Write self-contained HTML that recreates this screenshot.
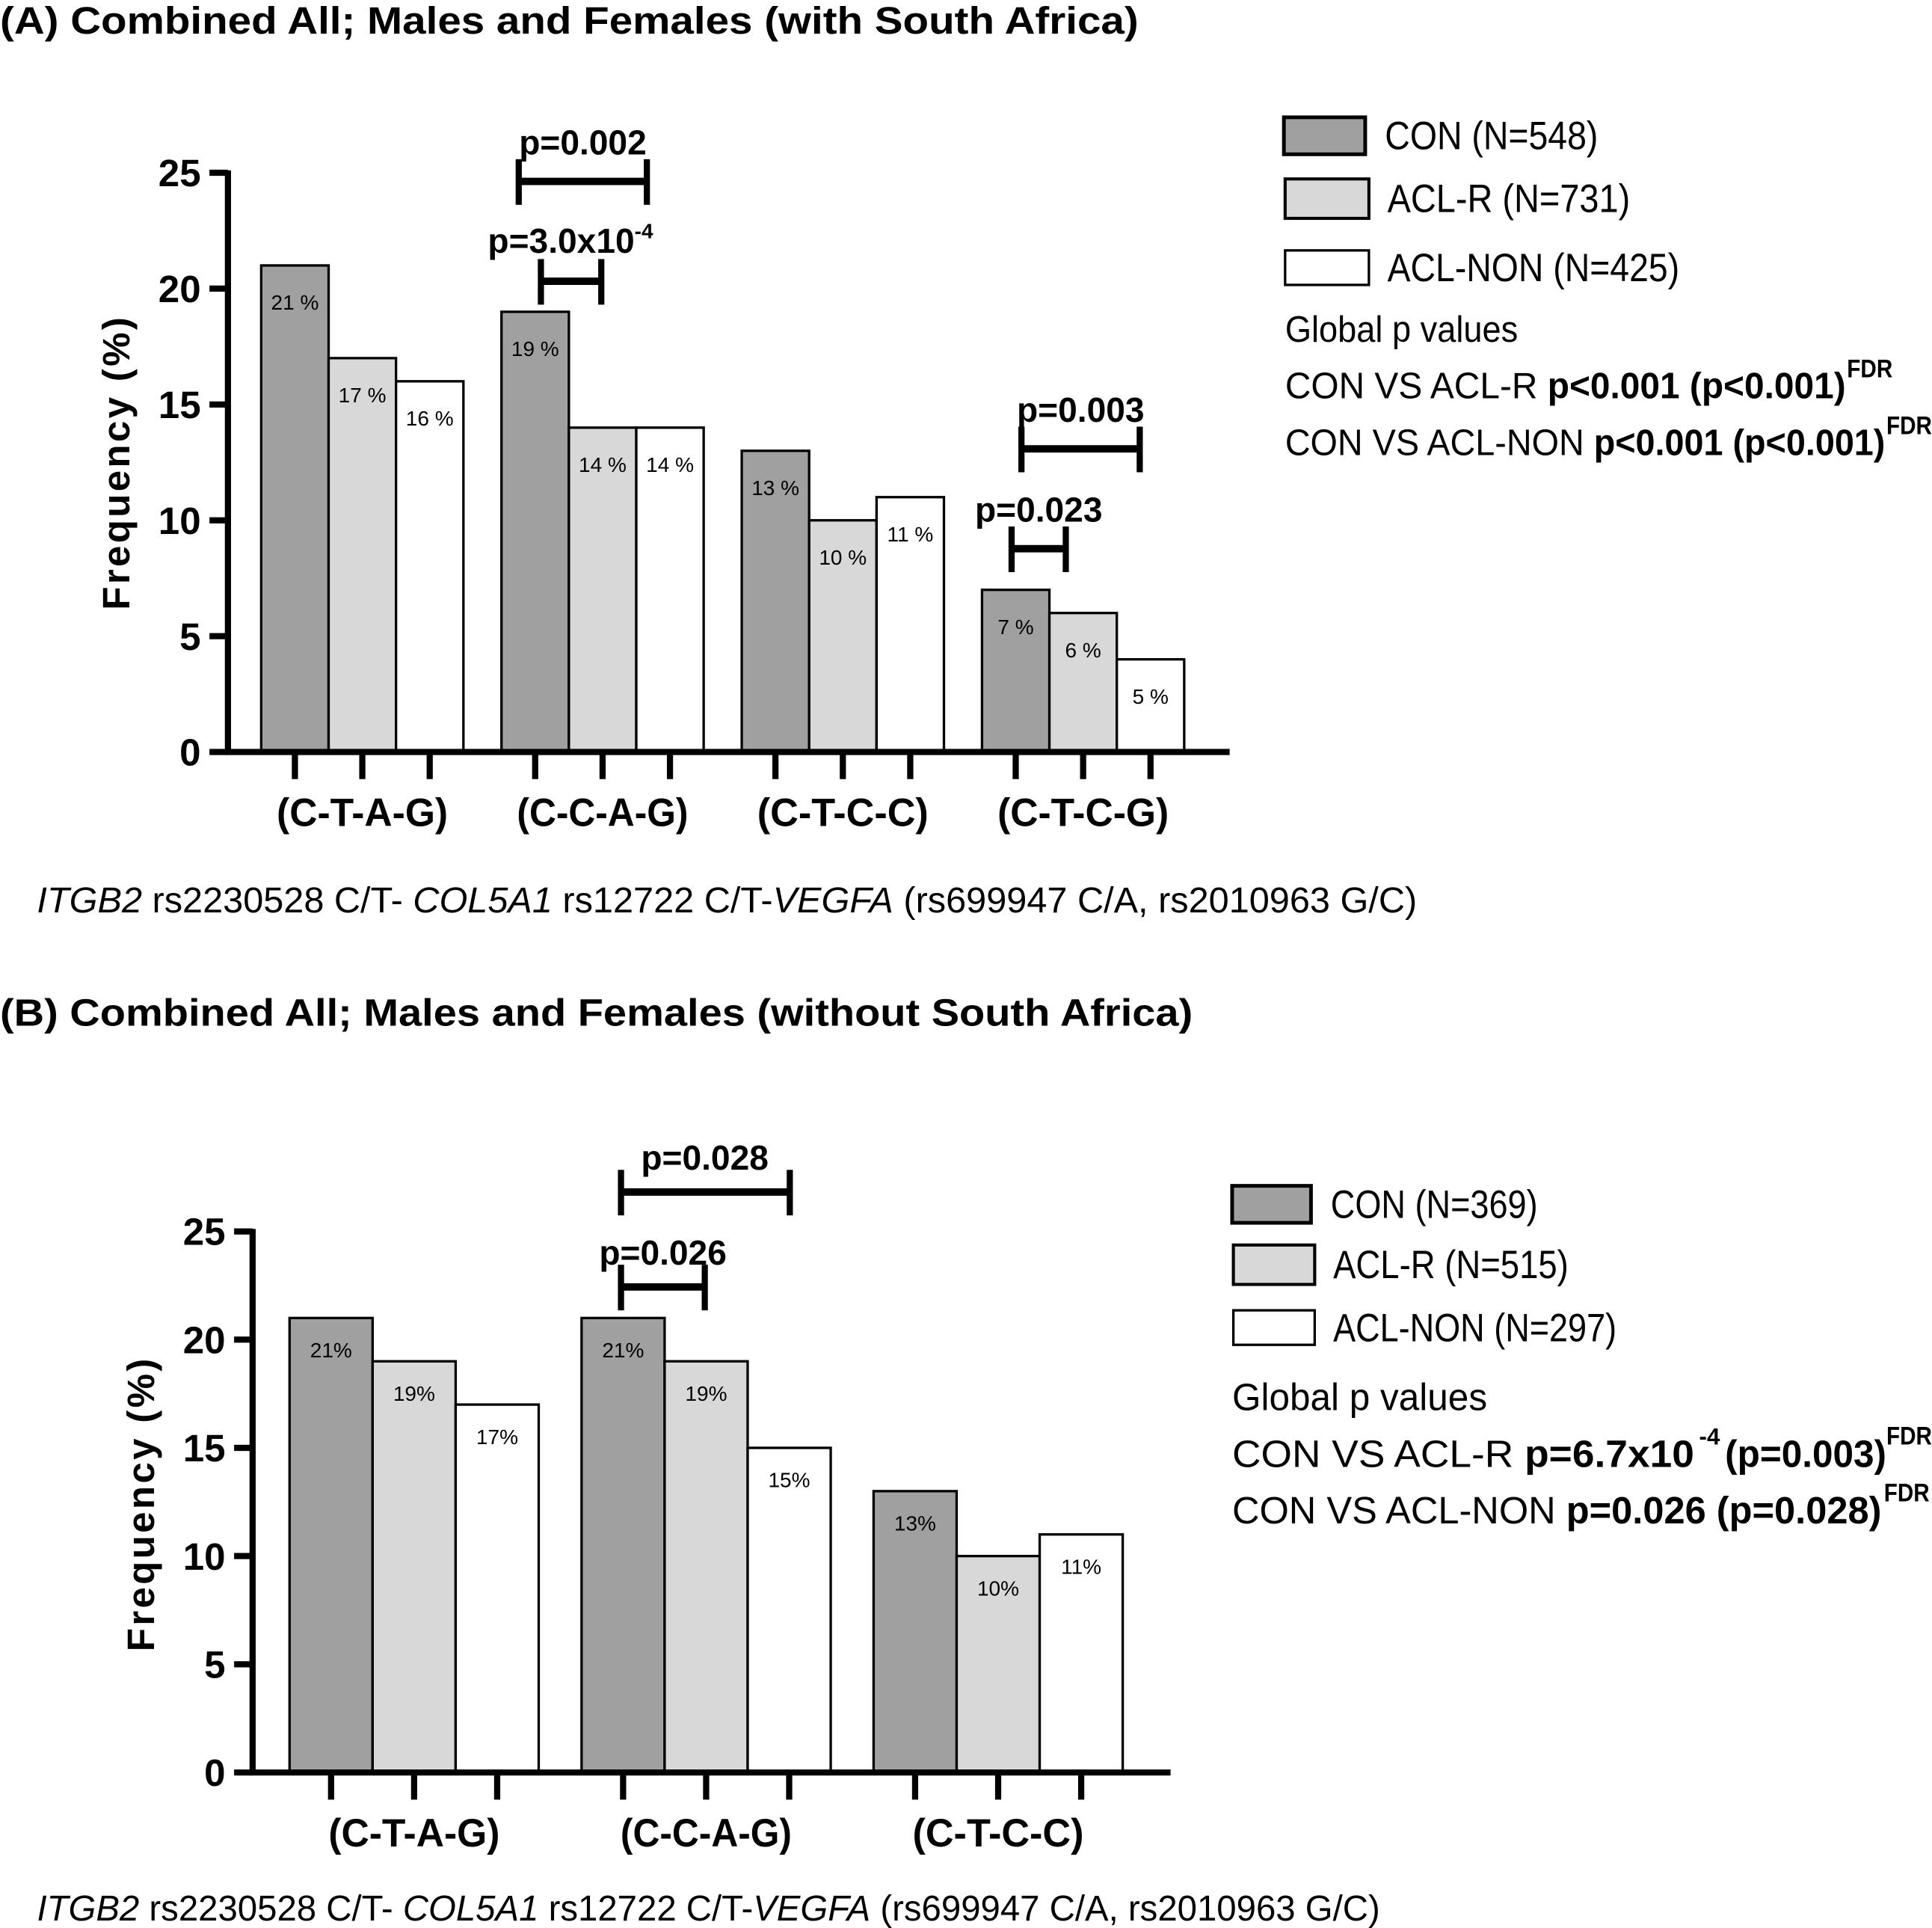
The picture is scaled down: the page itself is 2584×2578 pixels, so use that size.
<!DOCTYPE html>
<html><head><meta charset="utf-8"><style>
html,body{margin:0;padding:0;background:#fff}
svg{display:block}
text{font-family:"Liberation Sans Narrow","Liberation Sans",sans-serif;fill:#000}
</style></head><body>
<svg id="fig" width="2584" height="2578" viewBox="0 0 1568 1564" xmlns="http://www.w3.org/2000/svg">
<rect width="1568" height="1564" fill="#fff"/>
<text x="0" y="27" font-size="31" font-weight="bold" textLength="924" lengthAdjust="spacingAndGlyphs">(A) Combined All; Males and Females (with South Africa)</text>
<text x="30" y="740" font-size="29" textLength="1120" lengthAdjust="spacingAndGlyphs"><tspan font-style="italic">ITGB2</tspan> rs2230528 C/T- <tspan font-style="italic">COL5A1</tspan> rs12722 C/T-<tspan font-style="italic">VEGFA</tspan> (rs699947 C/A, rs2010963 G/C)</text>
<g>
<rect x="1042" y="95" width="66" height="30" fill="#a0a0a0" stroke="#000" stroke-width="3"/>
<rect x="1043" y="145" width="68" height="32" fill="#d8d8d8" stroke="#000" stroke-width="2.5"/>
<rect x="1043" y="203" width="68" height="28" fill="#fff" stroke="#000" stroke-width="2"/>
<text x="1124" y="121" font-size="32" textLength="173" lengthAdjust="spacingAndGlyphs">CON (N=548)</text>
<text x="1126" y="172" font-size="32" textLength="197" lengthAdjust="spacingAndGlyphs">ACL-R (N=731)</text>
<text x="1126" y="228" font-size="32" textLength="237" lengthAdjust="spacingAndGlyphs">ACL-NON (N=425)</text>
<text x="1043" y="277" font-size="30" textLength="189" lengthAdjust="spacingAndGlyphs">Global p values</text>
<text x="1043" y="323" font-size="30" textLength="455" lengthAdjust="spacingAndGlyphs">CON VS ACL-R  <tspan font-weight="bold">p&lt;0.001 (p&lt;0.001)</tspan></text>
<text x="1499" y="306" font-size="21" font-weight="bold" textLength="37" lengthAdjust="spacingAndGlyphs">FDR</text>
<text x="1043" y="369" font-size="30" textLength="487" lengthAdjust="spacingAndGlyphs">CON VS ACL-NON <tspan font-weight="bold">p&lt;0.001 (p&lt;0.001)</tspan></text>
<text x="1531" y="352" font-size="21" font-weight="bold" textLength="37" lengthAdjust="spacingAndGlyphs">FDR</text>
</g>
<text x="0" y="832" font-size="31" font-weight="bold" textLength="968" lengthAdjust="spacingAndGlyphs">(B) Combined All; Males and Females (without South Africa)</text>
<text x="30" y="1558" font-size="29" textLength="1090" lengthAdjust="spacingAndGlyphs"><tspan font-style="italic">ITGB2</tspan> rs2230528 C/T- <tspan font-style="italic">COL5A1</tspan> rs12722 C/T-<tspan font-style="italic">VEGFA</tspan> (rs699947 C/A, rs2010963 G/C)</text>
<g>
<rect x="1000" y="962" width="64" height="30" fill="#a0a0a0" stroke="#000" stroke-width="3"/>
<rect x="1001" y="1010" width="66" height="32" fill="#d8d8d8" stroke="#000" stroke-width="2.5"/>
<rect x="1001" y="1063" width="66" height="28" fill="#fff" stroke="#000" stroke-width="2"/>
<text x="1080" y="988" font-size="32" textLength="168" lengthAdjust="spacingAndGlyphs">CON (N=369)</text>
<text x="1082" y="1037" font-size="32" textLength="191" lengthAdjust="spacingAndGlyphs">ACL-R (N=515)</text>
<text x="1082" y="1088" font-size="32" textLength="230" lengthAdjust="spacingAndGlyphs">ACL-NON (N=297)</text>
<text x="1000" y="1144" font-size="31" textLength="207" lengthAdjust="spacingAndGlyphs">Global p values</text>
<text x="1000" y="1190" font-size="31" textLength="375" lengthAdjust="spacingAndGlyphs">CON VS ACL-R  <tspan font-weight="bold">p=6.7x10</tspan></text>
<text x="1379" y="1172" font-size="19" font-weight="bold">-4</text>
<text x="1400" y="1190" font-size="31" font-weight="bold" textLength="131" lengthAdjust="spacingAndGlyphs">(p=0.003)</text>
<text x="1531" y="1172" font-size="21" font-weight="bold" textLength="37" lengthAdjust="spacingAndGlyphs">FDR</text>
<text x="1000" y="1236" font-size="31" textLength="527" lengthAdjust="spacingAndGlyphs">CON VS ACL-NON <tspan font-weight="bold">p=0.026 (p=0.028)</tspan></text>
<text x="1529" y="1218" font-size="21" font-weight="bold" textLength="37" lengthAdjust="spacingAndGlyphs">FDR</text>
</g>
<g id="charts"></g>
</svg>
<script>
// Panel A data
const catsA = ["(C-T-A-G)", "(C-C-A-G)", "(C-T-C-C)", "(C-T-C-G)"];
const conA = [21, 19, 13, 7];
const aclrA = [17, 14, 10, 6];
const nonA = [16, 14, 11, 4];
const conLblA = ["21 %", "19 %", "13 %", "7 %"];
const aclrLblA = ["17 %", "14 %", "10 %", "6 %"];
const nonLblA = ["16 %", "14 %", "11 %", "5 %"];
// Panel B data
const catsB = ["(C-T-A-G)", "(C-C-A-G)", "(C-T-C-C)"];
const conB = [21, 21, 13];
const aclrB = [19, 19, 10];
const nonB = [17, 15, 11];
const conLblB = ["21%", "21%", "13%"];
const aclrLblB = ["19%", "19%", "10%"];
const nonLblB = ["17%", "15%", "11%"];
const yTicks = [0, 5, 10, 15, 20, 25];

const NS = "http://www.w3.org/2000/svg";
const root = document.getElementById("charts");
function mk(tag, attrs, parent, txt) {
  const e = document.createElementNS(NS, tag);
  for (const k in attrs) e.setAttribute(k, attrs[k]);
  if (txt !== undefined) e.textContent = txt;
  (parent || root).appendChild(e);
  return e;
}

function drawPanel(p) {
  const g = mk("g", {});
  
  
  const y = v => p.y0 - v * (p.y0 - p.y25) / 25;
  const series = [
    {vals: p.con, lbl: p.conL, fill: "#a0a0a0", name: "con"},
    {vals: p.aclr, lbl: p.aclrL, fill: "#d8d8d8", name: "aclr"},
    {vals: p.non, lbl: p.nonL, fill: "#ffffff", name: "aclnon"}
  ];
  p.cats.forEach((c, i) => {
    const gx = p.x0 + i * p.step;
    series.forEach((s, j) => {
      const x = gx + j * p.bw;
      const r = mk("rect", {x: x, y: y(s.vals[i]), width: p.bw, height: p.y0 - y(s.vals[i]), fill: s.fill, stroke: "#000", "stroke-width": 2}, g);
      
      
      const t = mk("text", {x: x + p.bw / 2, y: y(s.vals[i]) + p.lblOff, "font-size": p.lblSize, "text-anchor": "middle", fill: "#222"}, g, s.lbl[i]);
      
      
      const tk = mk("line", {x1: x + p.bw / 2, x2: x + p.bw / 2, y1: p.y0, y2: p.y0 + 22, stroke: "#000", "stroke-width": 5}, g);
      
      
    });
    const ct = mk("text", {x: gx + 1.5 * p.bw, y: p.y0 + 60, "font-size": 32, "font-weight": "bold", "text-anchor": "middle", textLength: 139, lengthAdjust: "spacingAndGlyphs"}, g, c);
    
    
  });
  const ya = mk("line", {x1: p.ax, x2: p.ax, y1: p.y25 - 2, y2: p.y0 + 2, stroke: "#000", "stroke-width": 5}, g);
  
  
  const xa = mk("line", {x1: p.ax - 2, x2: p.xend, y1: p.y0, y2: p.y0, stroke: "#000", "stroke-width": 5}, g);
  
  
  yTicks.forEach(v => {
    const l = mk("line", {x1: p.ax - 15, x2: p.ax, y1: y(v), y2: y(v), stroke: "#000", "stroke-width": 5}, g);
    
    
    const t = mk("text", {x: p.ax - 22, y: y(v) + 11, "font-size": 31, "font-weight": "bold", "text-anchor": "end"}, g, String(v));
    
    
  });
  const yt = mk("text", {x: 0, y: 0, "font-size": 31, "font-weight": "bold", "text-anchor": "middle", "font-family": "Liberation Sans, sans-serif", "letter-spacing": "2", transform: "translate(" + p.ytx + "," + p.yty + ") rotate(-90)"}, g, "Frequency (%)");
  
  
  p.brackets.forEach((b, k) => {
    const bg = mk("g", {}, g);
    
    
    mk("line", {x1: b.x1, x2: b.x2, y1: b.y, y2: b.y, stroke: "#000", "stroke-width": 6}, bg);
    mk("line", {x1: b.x1, x2: b.x1, y1: b.y - 18, y2: b.y + 19, stroke: "#000", "stroke-width": 5}, bg);
    mk("line", {x1: b.x2, x2: b.x2, y1: b.y - 18, y2: b.y + 19, stroke: "#000", "stroke-width": 5}, bg);
    const t = mk("text", {x: b.tx, y: b.ty, "font-size": 28, "font-weight": "bold", "text-anchor": "middle"}, bg);
    t.textContent = b.t;
    if (b.sup) { const s = mk("tspan", {dy: -12, "font-size": 17}, t); s.textContent = b.sup; }
  });
}

drawPanel({id: "panel-a", cats: catsA, con: conA, aclr: aclrA, non: nonA, conL: conLblA, aclrL: aclrLblA, nonL: nonLblA,
  x0: 212, bw: 54.7, step: 195, ax: 185, xend: 998, y0: 610, y25: 140, lblOff: 36, lblSize: 17, ytx: 105, yty: 375,
  brackets: [
    {x1: 421, x2: 525, y: 147, t: "p=0.002", tx: 473, ty: 125},
    {x1: 439, x2: 488, y: 228, t: "p=3.0x10", sup: "-4", tx: 463, ty: 205},
    {x1: 829, x2: 925, y: 364, t: "p=0.003", tx: 877, ty: 342},
    {x1: 821, x2: 865, y: 445, t: "p=0.023", tx: 843, ty: 423}
  ]});
drawPanel({id: "panel-b", cats: catsB, con: conB, aclr: aclrB, non: nonB, conL: conLblB, aclrL: aclrLblB, nonL: nonLblB,
  x0: 235, bw: 67.4, step: 237, ax: 205, xend: 950, y0: 1438, y25: 999, lblOff: 32, lblSize: 17, ytx: 125, yty: 1220,
  brackets: [
    {x1: 504, x2: 641, y: 967, t: "p=0.028", tx: 572, ty: 949},
    {x1: 504, x2: 572, y: 1044, t: "p=0.026", tx: 538, ty: 1026}
  ]});
</script>
</body></html>
